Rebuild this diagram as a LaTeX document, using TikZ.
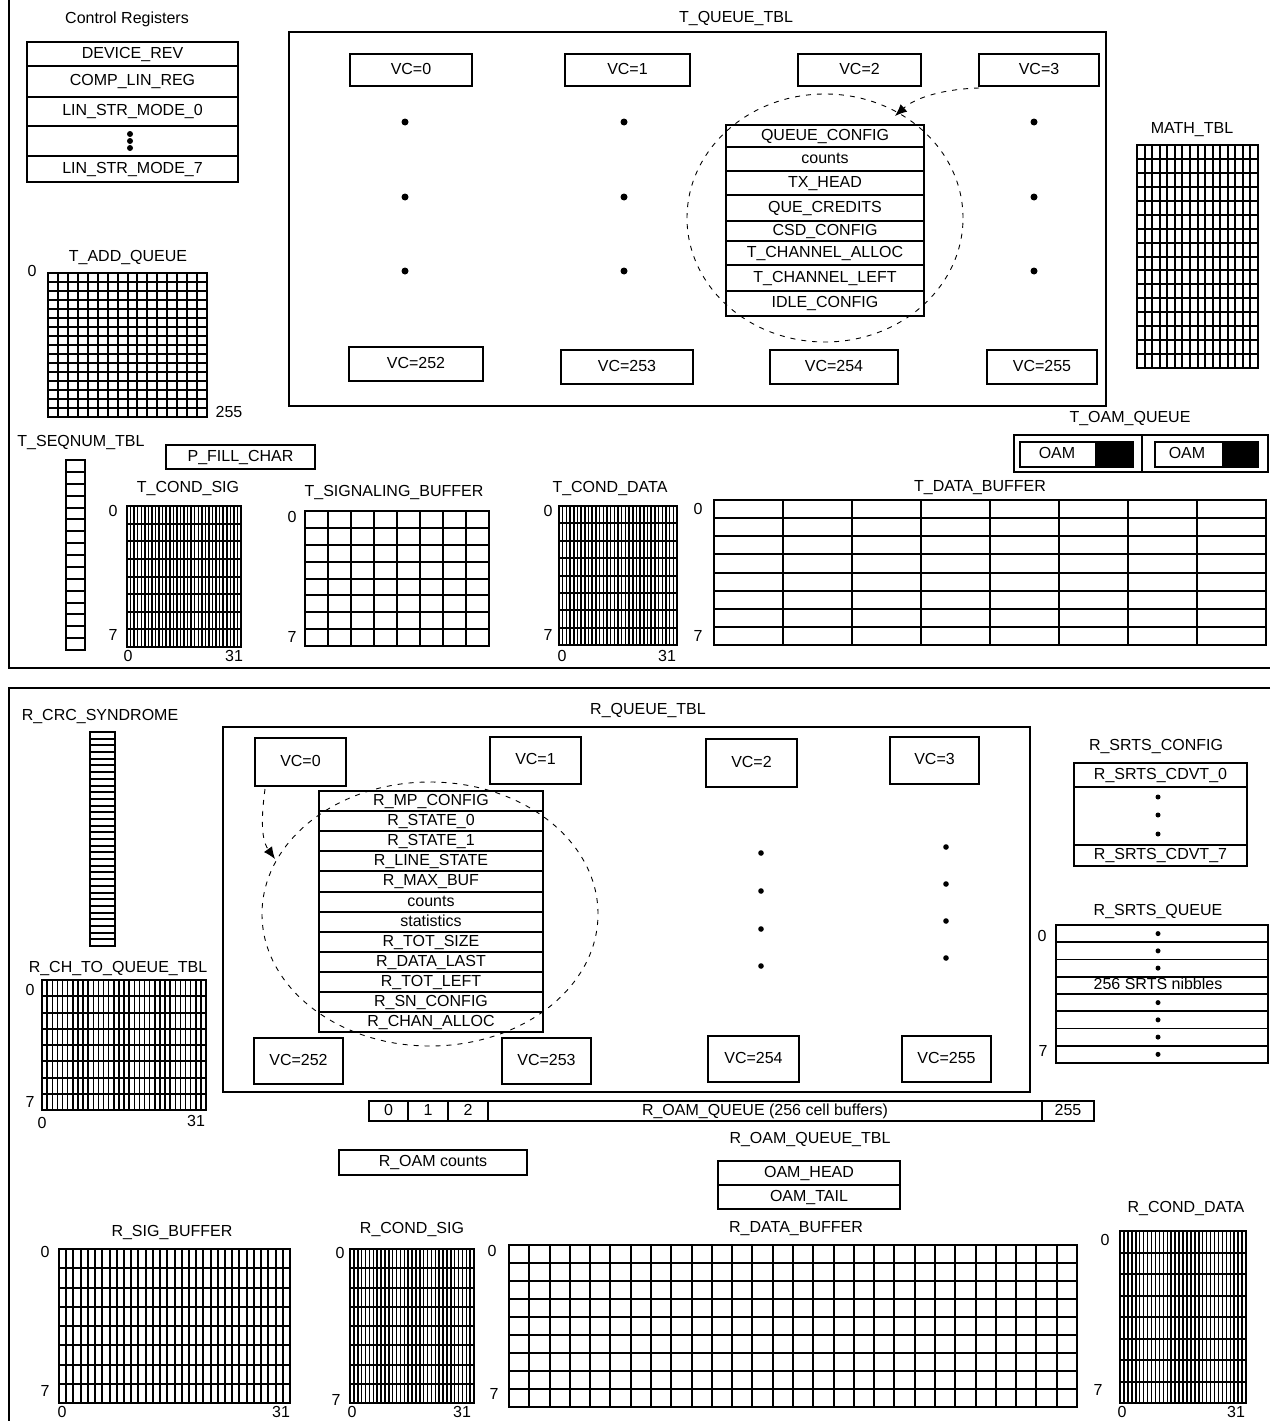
\documentclass[tikz,border=0pt]{standalone}
\usepackage{fontspec}
\setmainfont{Liberation Sans}
\usetikzlibrary{arrows.meta}
\newcommand\memgrid[7]{%
  \foreach \i in {0,...,#6}{\draw[#1] ({#2+(#4-#2)*\i/#6},#3) -- ({#2+(#4-#2)*\i/#6},#5);}%
  \foreach \j in {0,...,#7}{\draw[#1, line width=2pt] (#2,{#3+(#5-#3)*\j/#7}) -- (#4,{#3+(#5-#3)*\j/#7});}%
  \draw[line width=2pt] (#2,#3) rectangle (#4,#5);}
\newcommand\membox[6]{%
  \node[regbox, minimum width={(#4-#2)*1pt}, minimum height={(#5-#3)*1pt}] (#1) at ({(#2+#4)/2},{(#3+#5)/2}) {#6};}
\begin{document}
\begin{tikzpicture}[x=1pt,y=-1pt,
  lbl/.style={font=\fontsize{16}{18}\selectfont, inner sep=0pt, text height=11.5pt, text depth=3.3pt},
  regbox/.style={draw, line width=1.8pt, inner sep=0pt, outer sep=0pt, font=\fontsize{16}{18}\selectfont, text height=11.5pt, text depth=3.3pt},
  boxline/.style={line width=1.8pt},
  gridln/.style={line width=2pt},
  densegrid/.style={line width=1.5pt},
  dashline/.style={dash pattern=on 5pt off 6pt, line width=0.9pt}]
\useasboundingbox (0,0) rectangle (1270,1421);
\fill[white] (0,0) rectangle (1270,1421);
% panel frames
\draw[boxline] (9,0) -- (9,668) -- (1270,668);
\draw[boxline] (1270,688) -- (9,688) -- (9,1421);

% ---------------- TOP PANEL ----------------
\node[lbl] (ctrl) at (127,19) {Control Registers};
\membox{dev}{27}{42}{238}{66}{DEVICE\_REV}
\membox{comp}{27}{66}{238}{97}{COMP\_LIN\_REG}
\membox{lin0}{27}{97}{238}{126}{LIN\_STR\_MODE\_0}
\membox{lindots}{27}{126}{238}{156}{}
\membox{lin7}{27}{156}{238}{182}{LIN\_STR\_MODE\_7}
\foreach \yy in {134,141,148} \fill (130,\yy) circle (3pt);

\node[lbl] (tqt) at (736,18) {T\_QUEUE\_TBL};
\draw[boxline] (289,32) rectangle (1106,406);
\membox{tvc0}{350}{54}{472}{86}{VC=0}
\membox{tvc1}{565}{54}{690}{86}{VC=1}
\membox{tvc2}{798}{54}{921}{86}{VC=2}
\membox{tvc3}{979}{54}{1099}{86}{VC=3}
\membox{tvc252}{349}{347}{483}{381}{VC=252}
\membox{tvc253}{561}{350}{693}{384}{VC=253}
\membox{tvc254}{770}{350}{898}{384}{VC=254}
\membox{tvc255}{987}{350}{1097}{384}{VC=255}
\foreach \xx in {405,624,1034} \foreach \yy in {122,197,271} \fill (\xx,\yy) circle (3.5pt);
\draw[dashline] (825,218) ellipse [x radius=138pt, y radius=124pt];
\membox{qcfg}{726}{125}{924}{147}{QUEUE\_CONFIG}
\membox{tcnt}{726}{147}{924}{171}{counts}
\membox{txh}{726}{171}{924}{195}{TX\_HEAD}
\membox{qcr}{726}{195}{924}{221}{QUE\_CREDITS}
\membox{csd}{726}{221}{924}{241}{CSD\_CONFIG}
\membox{tca}{726}{241}{924}{265}{T\_CHANNEL\_ALLOC}
\membox{tcl}{726}{265}{924}{291}{T\_CHANNEL\_LEFT}
\membox{idle}{726}{291}{924}{316}{IDLE\_CONFIG}
\coordinate (tarr) at (895,116);
\draw[dashline, -{Latex[length=12pt,width=10pt]}] ([yshift=-2pt]tvc3.south west) .. controls (945,89) and (916,97) .. (tarr);

\node[lbl] (taddt) at (128,257) {T\_ADD\_QUEUE};
\memgrid{gridln}{48}{273}{207}{417}{16}{16}
\node[lbl] (tadd0) at (32,272) {0};
\node[lbl] (tadd255) at (229,413) {255};

\node[lbl] (matht) at (1192,129) {MATH\_TBL};
\memgrid{gridln}{1137}{145}{1258}{368}{16}{16}

\node[lbl] (toqt) at (1130,418) {T\_OAM\_QUEUE};
\draw[boxline] (1014,435) rectangle (1268,472);
\draw[boxline] (1142,435) -- (1142,472);
\membox{oam1}{1020}{442}{1133}{467}{}
\fill (1095,442) rectangle (1133,467);
\node[lbl] (oam1t) at (1057,454) {OAM};
\membox{oam2}{1155}{442}{1258}{467}{}
\fill (1222,442) rectangle (1258,467);
\node[lbl] (oam2t) at (1187,454) {OAM};

\node[lbl] (tseqt) at (81,442) {T\_SEQNUM\_TBL};
\memgrid{gridln}{66}{460}{85}{650}{1}{16}
\membox{pfill}{166}{445}{315}{469}{P\_FILL\_CHAR}

\node[lbl] (tcst) at (188,488) {T\_COND\_SIG};
\memgrid{densegrid}{127}{506}{241}{647}{32}{8}
\node[lbl] (tcs0) at (113,512) {0};
\node[lbl] (tcs7) at (113,636) {7};
\node[lbl] (tcsb0) at (128,657) {0};
\node[lbl] (tcsb31) at (234,657) {31};

\node[lbl] (tsbt) at (394,492) {T\_SIGNALING\_BUFFER};
\memgrid{gridln}{305}{511}{489}{646}{8}{8}
\node[lbl] (tsb0) at (292,518) {0};
\node[lbl] (tsb7) at (292,638) {7};

\node[lbl] (tcdt) at (610,488) {T\_COND\_DATA};
\memgrid{densegrid}{559}{506}{677}{645}{32}{8}
\node[lbl] (tcd0) at (548,512) {0};
\node[lbl] (tcd7) at (548,636) {7};
\node[lbl] (tcdb0) at (562,657) {0};
\node[lbl] (tcdb31) at (667,657) {31};

\node[lbl] (tdbt) at (980,487) {T\_DATA\_BUFFER};
\memgrid{gridln}{714}{500}{1266}{645}{8}{8}
\node[lbl] (tdb0) at (698,510) {0};
\node[lbl] (tdb7) at (698,637) {7};

% ---------------- BOTTOM PANEL ----------------
\node[lbl] (rcrct) at (100,716) {R\_CRC\_SYNDROME};
\memgrid{gridln}{90}{732}{115}{946}{1}{32}

\node[lbl] (rchqt) at (118,968) {R\_CH\_TO\_QUEUE\_TBL};
\memgrid{densegrid}{42}{980}{206}{1110}{32}{8}
\node[lbl] (rchq0) at (30,991) {0};
\node[lbl] (rchq7) at (30,1103) {7};
\node[lbl] (rchqb0) at (42,1124) {0};
\node[lbl] (rchqb31) at (196,1122) {31};

\node[lbl] (rqt) at (648,710) {R\_QUEUE\_TBL};
\draw[boxline] (223,727) rectangle (1030,1092);
\membox{rvc0}{255}{738}{346}{786}{VC=0}
\membox{rvc1}{490}{737}{581}{784}{VC=1}
\membox{rvc2}{706}{739}{797}{787}{VC=2}
\membox{rvc3}{890}{737}{979}{784}{VC=3}
\membox{rvc252}{254}{1038}{343}{1084}{VC=252}
\membox{rvc253}{502}{1038}{591}{1084}{VC=253}
\membox{rvc254}{708}{1036}{799}{1082}{VC=254}
\membox{rvc255}{902}{1036}{991}{1082}{VC=255}
\foreach \yy in {853,891,929,966} \fill (761,\yy) circle (2.8pt);
\foreach \yy in {847,884,921,958} \fill (946,\yy) circle (2.8pt);
\draw[dashline] (430,914) ellipse [x radius=168pt, y radius=132pt];
\membox{rmp}{319}{791}{543}{811}{R\_MP\_CONFIG}
\membox{rs0}{319}{811}{543}{831}{R\_STATE\_0}
\membox{rs1}{319}{831}{543}{851}{R\_STATE\_1}
\membox{rls}{319}{851}{543}{871}{R\_LINE\_STATE}
\membox{rmb}{319}{871}{543}{892}{R\_MAX\_BUF}
\membox{rcnt}{319}{892}{543}{912}{counts}
\membox{rstat}{319}{912}{543}{932}{statistics}
\membox{rts}{319}{932}{543}{952}{R\_TOT\_SIZE}
\membox{rdl}{319}{952}{543}{972}{R\_DATA\_LAST}
\membox{rtl}{319}{972}{543}{992}{R\_TOT\_LEFT}
\membox{rsn}{319}{992}{543}{1012}{R\_SN\_CONFIG}
\membox{rca}{319}{1012}{543}{1032}{R\_CHAN\_ALLOC}
\coordinate (rarr) at (275,859);
\draw[dashline, -{Latex[length=12pt,width=10pt]}] ([xshift=10pt,yshift=-3pt]rvc0.south west) .. controls (262,812) and (260,838) .. (rarr);

\node[lbl] (rsct) at (1156,746) {R\_SRTS\_CONFIG};
\membox{rsc0}{1074}{763}{1247}{787}{R\_SRTS\_CDVT\_0}
\membox{rscd}{1074}{787}{1247}{845}{}
\membox{rsc7}{1074}{845}{1247}{866}{R\_SRTS\_CDVT\_7}
\foreach \yy in {797,815,834} \fill (1158,\yy) circle (2.5pt);

\node[lbl] (rsqt) at (1158,911) {R\_SRTS\_QUEUE};
\foreach \k in {0,...,7} {
  \draw[boxline] (1056,{925+17.25*\k}) rectangle (1268,{925+17.25*(\k+1)});
}
\foreach \k in {0,1,2,4,5,6,7} \fill (1158,{925+17.25*\k+8.6}) circle (2.5pt);
\node[lbl] (rsqtxt) at (1158,985.4) {256 SRTS nibbles};
\node[lbl] (rsq0) at (1042,937) {0};
\node[lbl] (rsq7) at (1043,1052) {7};

\membox{ro0}{369}{1101}{408}{1121}{0}
\membox{ro1}{408}{1101}{448}{1121}{1}
\membox{ro2}{448}{1101}{488}{1121}{2}
\membox{romid}{488}{1101}{1042}{1121}{R\_OAM\_QUEUE (256 cell buffers)}
\membox{ro255}{1042}{1101}{1094}{1121}{255}

\node[lbl] (roqtt) at (810,1139) {R\_OAM\_QUEUE\_TBL};
\membox{ohead}{718}{1161}{900}{1185}{OAM\_HEAD}
\membox{otail}{718}{1185}{900}{1209}{OAM\_TAIL}
\membox{rocnt}{339}{1150}{527}{1175}{R\_OAM counts}

\node[lbl] (rsbt) at (172,1232) {R\_SIG\_BUFFER};
\memgrid{gridln}{59}{1249}{290}{1403}{32}{8}
\node[lbl] (rsb0) at (45,1253) {0};
\node[lbl] (rsb7) at (45,1392) {7};
\node[lbl] (rsbb0) at (62,1413) {0};
\node[lbl] (rsbb31) at (281,1413) {31};

\node[lbl] (rcst) at (412,1229) {R\_COND\_SIG};
\memgrid{densegrid}{350}{1249}{474}{1403}{32}{8}
\node[lbl] (rcs0) at (340,1254) {0};
\node[lbl] (rcs7) at (336,1401) {7};
\node[lbl] (rcsb0) at (352,1413) {0};
\node[lbl] (rcsb31) at (462,1413) {31};

\node[lbl] (rdbt) at (796,1228) {R\_DATA\_BUFFER};
\memgrid{gridln}{509}{1245}{1077}{1407}{28}{9}
\node[lbl] (rdb0) at (492,1252) {0};
\node[lbl] (rdb7) at (494,1395) {7};

\node[lbl] (rcdt) at (1186,1208) {R\_COND\_DATA};
\memgrid{densegrid}{1120}{1231}{1246}{1403}{32}{8}
\node[lbl] (rcd0) at (1105,1241) {0};
\node[lbl] (rcd7) at (1098,1391) {7};
\node[lbl] (rcdb0) at (1122,1413) {0};
\node[lbl] (rcdb31) at (1236,1413) {31};
\end{tikzpicture}
\end{document}
